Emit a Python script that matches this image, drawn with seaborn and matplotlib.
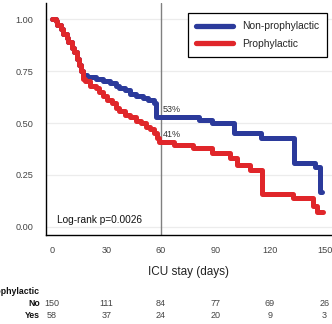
import numpy as np
import pandas as pd
import seaborn as sns
import matplotlib
matplotlib.use("Agg")
import matplotlib.pyplot as plt
import matplotlib.transforms as mtransforms

# Kaplan-Meier step estimates (time in days, survival probability)
non_days = [0, 2, 3, 5, 6, 8, 9, 11, 12, 14, 15, 16, 17, 19, 24, 28, 32, 35, 37, 40,
            43, 46, 50, 53, 56, 57.5, 81, 88, 100, 115, 133, 145, 147.5, 148.5]
non_surv = [1.00, 0.99, 0.97, 0.95, 0.93, 0.91, 0.89, 0.86, 0.84, 0.81, 0.78, 0.75,
            0.73, 0.72, 0.71, 0.70, 0.69, 0.68, 0.67, 0.66, 0.64, 0.63, 0.62, 0.61,
            0.595, 0.53, 0.515, 0.50, 0.45, 0.43, 0.31, 0.29, 0.17, 0.17]

pro_days = [0, 2, 3, 5, 6, 8, 9, 11, 12, 14, 15, 16, 17, 18, 21, 24, 26, 28, 30, 33,
            35, 37, 40, 43, 46, 49, 52, 54, 56, 58, 59, 67, 77.6, 88, 98, 102, 109,
            115.6, 132.6, 143.6, 146, 149]
pro_surv = [1.00, 0.99, 0.97, 0.95, 0.93, 0.91, 0.89, 0.86, 0.84, 0.81, 0.78, 0.75,
            0.71, 0.70, 0.68, 0.67, 0.65, 0.63, 0.61, 0.595, 0.57, 0.56, 0.54, 0.53,
            0.51, 0.50, 0.48, 0.47, 0.45, 0.43, 0.41, 0.395, 0.38, 0.355, 0.33, 0.30,
            0.275, 0.16, 0.14, 0.10, 0.07, 0.07]

groups = ["Non-prophylactic", "Prophylactic"]
colors = {"Non-prophylactic": "#2b3a9b", "Prophylactic": "#e0262a"}

risk_times = [0, 30, 60, 90, 120, 150]
risk_no = [150, 111, 84, 77, 69, 26]
risk_yes = [58, 37, 24, 20, 9, 3]

landmark_day = 60
landmark_non = 0.53
landmark_pro = 0.41
logrank_text = "Log-rank p=0.0026"

df = pd.concat([
    pd.DataFrame({"day": non_days, "surv": non_surv, "group": groups[0]}),
    pd.DataFrame({"day": pro_days, "surv": pro_surv, "group": groups[1]}),
])

sns.set_style("white")
plt.rcParams["font.family"] = ["Liberation Sans", "DejaVu Sans"]

W, H = 332, 324
fig = plt.figure(figsize=(W / 100, H / 100), dpi=100)
ax = fig.add_axes([46 / W, (H - 235) / H, (W - 46) / W, (235 - 3) / H])

for yv in [0, 0.25, 0.5, 0.75, 1.0]:
    ax.axhline(yv, color="#ececec", lw=0.9, zorder=0)

ax.axvline(landmark_day, color="#808080", lw=1.0, zorder=1)

sns.lineplot(data=df, x="day", y="surv", hue="group", palette=colors,
             drawstyle="steps-post", lw=3.6, ax=ax, legend=False, sort=False,
             estimator=None, zorder=3)

ax.set_xlim(-3.3, 154.1)
ax.set_ylim(-0.0385, 1.077)
ax.set_xticks(risk_times)
ax.set_yticks([0, 0.25, 0.5, 0.75, 1.0])
ax.set_yticklabels(["0.00", "0.25", "0.50", "0.75", "1.00"])
ax.tick_params(axis="both", direction="out", length=4, width=1, color="black",
               labelsize=6.6, labelcolor="#444444", pad=4)
ax.tick_params(axis="y", pad=5)
for side in ["top", "right"]:
    ax.spines[side].set_visible(False)
for side in ["left", "bottom"]:
    ax.spines[side].set_color("black")
    ax.spines[side].set_linewidth(1.0)
ax.set_xlabel("ICU stay (days)", fontsize=8.5, color="#222222", labelpad=8)
ax.set_ylabel("")

ax.text(landmark_day + 1, landmark_non + 0.012, f"{round(landmark_non * 100)}%",
        fontsize=6.5, color="#333333", va="bottom", ha="left")
ax.text(landmark_day + 1, landmark_pro + 0.012, f"{round(landmark_pro * 100)}%",
        fontsize=6.5, color="#333333", va="bottom", ha="left")
ax.text(3, 0.035, logrank_text, fontsize=7.3, color="#111111", va="center", ha="left")

handles = [plt.Line2D([], [], color=colors[g], lw=3.8) for g in groups]
leg = fig.legend(handles, groups, loc="upper right",
                 bbox_to_anchor=(327 / W, 1 - 13 / H), bbox_transform=fig.transFigure,
                 fontsize=7.4, handlelength=3.6, labelspacing=0.75, borderpad=0.8,
                 borderaxespad=0, fancybox=False, framealpha=1, handletextpad=0.8)
leg.get_frame().set_edgecolor("black")
leg.get_frame().set_linewidth(0.9)

# number-at-risk table under the axis
trans = mtransforms.blended_transform_factory(ax.transData, fig.transFigure)
ax.text(-6.8, 1 - 292 / H, "Prophylactic", transform=trans, ha="right", va="center",
        fontsize=6.3, color="#111111", fontweight="bold", clip_on=False)
ax.text(-6.8, 1 - 304 / H, "No", transform=trans, ha="right", va="center",
        fontsize=6.3, color="#111111", fontweight="bold", clip_on=False)
ax.text(-6.8, 1 - 315 / H, "Yes", transform=trans, ha="right", va="center",
        fontsize=6.3, color="#111111", fontweight="bold", clip_on=False)
for t, n_no, n_yes in zip(risk_times, risk_no, risk_yes):
    ax.text(t, 1 - 304 / H, str(n_no), transform=trans, ha="center", va="center",
            fontsize=6.5, color="#444444", clip_on=False)
    ax.text(t, 1 - 315 / H, str(n_yes), transform=trans, ha="center", va="center",
            fontsize=6.5, color="#444444", clip_on=False)

fig.savefig("out.png", dpi=100)
